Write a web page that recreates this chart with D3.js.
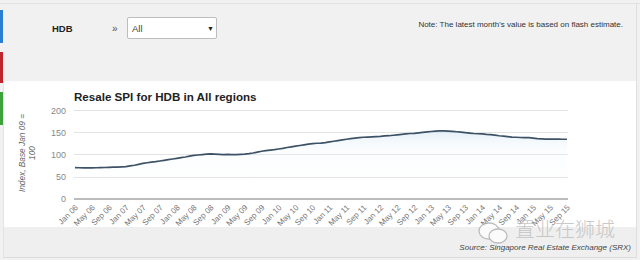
<!DOCTYPE html>
<html>
<head>
<meta charset="utf-8">
<script src="https://cdn.jsdelivr.net/npm/d3@7"></script>
<style>
html,body{margin:0;padding:0;background:#f1f1f1;}
svg{display:block;}
</style>
</head>
<body>
<svg id="chart" width="640" height="260"></svg>
<script>
// ---- data ----
const startYear = 2006;
const monthNames = ["Jan","Feb","Mar","Apr","May","Jun","Jul","Aug","Sep","Oct","Nov","Dec"];
const spiValues = [
  70, 69.8, 69.5, 69.3, 69.5, 69.8, 70, 70.3, 70.6, 71, 71.3, 71.8,
  72.5, 74, 75.5, 77.5, 79.5, 81, 82.5, 83.5, 85, 86.5, 88, 89.5,
  91, 92.5, 94, 96, 97.5, 98.5, 99.5, 100.5, 101, 100.5, 100, 99.5,
  100, 99.5, 99.5, 100, 100.5, 101.5, 103, 105, 107, 108.5, 109.5, 110.5,
  112, 113.5, 115.5, 117, 118.5, 120, 121.5, 123, 124, 125, 125.5, 126.5,
  128, 129.5, 131, 132.5, 134, 135.5, 136.5, 137.5, 138.5, 139, 139.5, 140,
  140.5, 141.5, 142, 143, 144, 145, 146, 147, 147.5, 148.5, 149.5, 150.5,
  151.5, 152.5, 153, 153, 152.5, 152, 151, 150, 149, 148, 147, 146.5,
  146, 145, 144.5, 143.5, 142, 141, 140, 139, 138.5, 138, 137.5, 137.5,
  136.5, 135.5, 135, 134.5, 134.5, 134.3, 134.2, 134, 134
];
const categories = spiValues.map((v,i)=> monthNames[i%12] + " " + String((startYear + Math.floor(i/12))%100).padStart(2,"0"));
const tickLabels = ["Jan 06","May 06","Sep 06","Jan 07","May 07","Sep 07","Jan 08","May 08","Sep 08","Jan 09","May 09","Sep 09",
  "Jan 10","May 10","Sep 10","Jan 11","May 11","Sep 11","Jan 12","May 12","Sep 12","Jan 13","May 13","Sep 13",
  "Jan 14","May 14","Sep 14","Jan 15","May 15","Sep 15"];
const yTicks = [0,50,100,150,200];
const titleText = "Resale SPI for HDB in All regions";
const yTitle = ["Index, Base Jan 09 =","100"];
const noteText = "Note: The latest month's value is based on flash estimate.";
const sourceText = "Source: Singapore Real Estate Exchange (SRX)";

// ---- drawing ----
const svg = d3.select("#chart");
const FONT = "'Liberation Sans', Arial, sans-serif";

// page background
svg.append("rect").attr("x",0).attr("y",0).attr("width",640).attr("height",260).attr("fill","#f1f1f1");
svg.append("line").attr("x1",0).attr("x2",640).attr("y1",3.5).attr("y2",3.5).attr("stroke","#e2e2e2");
svg.append("line").attr("x1",636.5).attr("x2",636.5).attr("y1",3).attr("y2",258).attr("stroke","#dedede");

// left colour tabs
[[10,43,"#2a7fd4"],[52,83,"#c0272d"],[92,125,"#3da23a"]].forEach(t=>{
  svg.append("rect").attr("x",0).attr("y",t[0]).attr("width",3).attr("height",t[1]-t[0]).attr("fill",t[2]);
});

// header controls
svg.append("text").attr("x",52).attr("y",31.5).attr("font-family",FONT).attr("font-size",9.5)
  .attr("font-weight","bold").attr("fill","#222").text("HDB");
svg.append("text").attr("x",112).attr("y",31.5).attr("font-family",FONT).attr("font-size",10)
  .attr("fill","#555").text("»");
svg.append("rect").attr("x",127.5).attr("y",17.5).attr("width",89).attr("height",21).attr("rx",1.5)
  .attr("fill","#fff").attr("stroke","#bdbdbd");
svg.append("text").attr("x",132).attr("y",31.5).attr("font-family",FONT).attr("font-size",9.5)
  .attr("fill","#444").text("All");
svg.append("text").attr("x",207).attr("y",30.5).attr("font-family",FONT).attr("font-size",7)
  .attr("fill","#222").text("▼");
svg.append("text").attr("x",623).attr("y",27).attr("text-anchor","end").attr("font-family",FONT)
  .attr("font-size",8).attr("fill","#333").text(noteText);

// chart panel
svg.append("rect").attr("x",3).attr("y",81).attr("width",633).attr("height",146).attr("fill","#ffffff");
svg.append("rect").attr("x",3).attr("y",227).attr("width",633).attr("height",30).attr("fill","#efefef");
svg.append("line").attr("x1",3).attr("x2",636).attr("y1",257.5).attr("y2",257.5).attr("stroke","#dcdcdc");
svg.append("line").attr("x1",3.5).attr("x2",3.5).attr("y1",81).attr("y2",257).attr("stroke","#e4e4e4");

// title
svg.append("text").attr("x",74).attr("y",101).attr("font-family",FONT).attr("font-size",11.6)
  .attr("font-weight","bold").attr("fill","#222").text(titleText);

// scales
const x = d3.scalePoint().domain(categories).range([75, 567]);
const y = d3.scaleLinear().domain([0,200]).range([198.7, 110]);

// gridlines
const grid = svg.append("g");
grid.selectAll("line").data(yTicks.filter(d=>d>0)).join("line")
  .attr("x1",74).attr("x2",568).attr("y1",d=>Math.round(y(d))+0.5).attr("y2",d=>Math.round(y(d))+0.5)
  .attr("stroke","#e3e3e3").attr("stroke-width",1);

// y axis labels
const yAxis = d3.axisLeft(y).tickValues(yTicks).tickSize(0).tickPadding(0);
const gy = svg.append("g").attr("transform","translate(66,0)").call(yAxis);
gy.select(".domain").remove();
gy.selectAll("text").attr("font-family",FONT).attr("font-size",9).attr("fill","#888").attr("dy","0.35em");

// y title
const yt = svg.append("text").attr("transform","translate(25,153) rotate(-90)")
  .attr("text-anchor","middle").attr("font-family",FONT).attr("font-size",8.3).attr("font-style","italic").attr("fill","#666");
yt.append("tspan").attr("x",0).attr("y",0).text(yTitle[0]);
yt.append("tspan").attr("x",0).attr("y",10).text(yTitle[1]);

// area + line
const defs = svg.append("defs");
const grad = defs.append("linearGradient").attr("id","ag").attr("x1",0).attr("x2",0).attr("y1",0).attr("y2",1);
grad.append("stop").attr("offset","0%").attr("stop-color","#cfe3f3").attr("stop-opacity",0.55);
grad.append("stop").attr("offset","25%").attr("stop-color","#eaf3fa").attr("stop-opacity",0.25);
grad.append("stop").attr("offset","100%").attr("stop-color","#ffffff").attr("stop-opacity",0);
const pts = spiValues.map((v,i)=>[categories[i], v]);
svg.append("path").datum(pts)
  .attr("d", d3.area().x(d=>x(d[0])).y0(y(0)).y1(d=>y(d[1])))
  .attr("fill","url(#ag)");
svg.append("path").datum(pts)
  .attr("d", d3.line().x(d=>x(d[0])).y(d=>y(d[1])))
  .attr("fill","none").attr("stroke","#3e5267").attr("stroke-width",1.7).attr("stroke-linejoin","round");

// x axis
svg.append("line").attr("x1",74).attr("x2",568).attr("y1",199).attr("y2",199).attr("stroke","#7a7a7a").attr("stroke-width",1.2);
const xAxis = d3.axisBottom(x).tickValues(tickLabels).tickSize(0).tickPadding(0);
const gx = svg.append("g").attr("transform","translate(0,199)").call(xAxis);
gx.select(".domain").remove();
gx.selectAll("text").attr("font-family",FONT).attr("font-size",8).attr("fill","#777")
  .attr("text-anchor","end").attr("dy",0).attr("y",0)
  .attr("transform","translate(3,9) rotate(-45)");

// watermark
const wm = svg.append("g").attr("opacity",0.8);
wm.append("ellipse").attr("cx",489).attr("cy",231).attr("rx",10).attr("ry",8).attr("fill","#fff").attr("stroke","#b0b0b0").attr("stroke-width",1.3);
wm.append("ellipse").attr("cx",498).attr("cy",236).attr("rx",9).attr("ry",7).attr("fill","#fff").attr("stroke","#b0b0b0").attr("stroke-width",1.3);
wm.append("text").attr("x",515).attr("y",237).attr("font-family","'Noto Sans CJK SC', sans-serif")
  .attr("font-size",20).attr("font-weight",300).attr("fill","#bcbcbc").text("置业在狮城");

// source
svg.append("text").attr("x",631).attr("y",250).attr("text-anchor","end").attr("font-family",FONT)
  .attr("font-size",8).attr("font-style","italic").attr("fill","#444").text(sourceText);
</script>
</body>
</html>
